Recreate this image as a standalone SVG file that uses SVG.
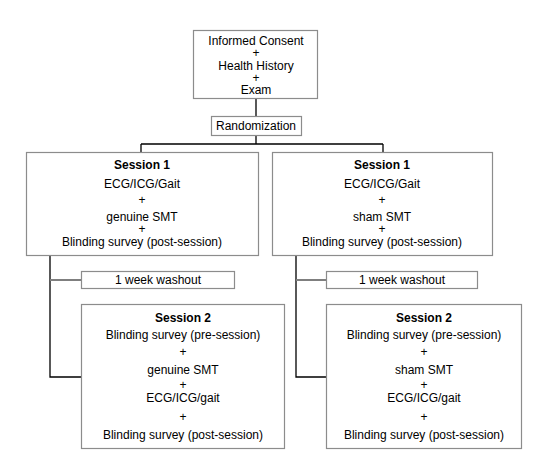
<svg xmlns="http://www.w3.org/2000/svg" width="549" height="463" viewBox="0 0 549 463">
<style>
.box{fill:#fff;stroke:#8c8c8c;stroke-width:1.2}
text{font-family:"Liberation Sans",Arial,sans-serif;font-size:12px;fill:#000;text-anchor:middle}
.b{font-weight:bold}
.ln{stroke:#000;stroke-width:1.3;fill:none}
.lg{stroke:#7f7f7f;stroke-width:2;fill:none}
</style>
<rect width="549" height="463" fill="#fff"/>
<g id="connectors">
<path class="ln" d="M256 99V116M256 136V144M141 144H383M141 144V152M383 144V152"/>
<path class="ln" d="M50 256V377H81M296 256V377H326"/>
<path class="lg" d="M50 280H81M296 280H326"/>
</g>
<g id="consent">
<rect class="box" x="193.5" y="30.5" width="124" height="68"/>
<text x="256" y="45">Informed Consent</text>
<text x="256" y="57">+</text>
<text x="256" y="70">Health History</text>
<text x="256" y="82">+</text>
<text x="256" y="94">Exam</text>
</g>
<g id="randomization">
<rect class="box" x="211.5" y="116.5" width="90" height="19"/>
<text x="256" y="130">Randomization</text>
</g>
<g id="s1-left">
<rect class="box" x="26.5" y="152.5" width="232" height="103"/>
<text class="b" x="142" y="169">Session 1</text>
<text x="142" y="188">ECG/ICG/Gait</text>
<text x="142" y="204">+</text>
<text x="142" y="221">genuine SMT</text>
<text x="142" y="233">+</text>
<text x="142" y="246">Blinding survey (post-session)</text>
</g>
<g id="s1-right">
<rect class="box" x="272.5" y="152.5" width="220" height="103"/>
<text class="b" x="382" y="169">Session 1</text>
<text x="382" y="188">ECG/ICG/Gait</text>
<text x="382" y="204">+</text>
<text x="382" y="221">sham SMT</text>
<text x="382" y="233">+</text>
<text x="382" y="246">Blinding survey (post-session)</text>
</g>
<g id="washout-left">
<rect class="box" x="81.5" y="271.5" width="153" height="17"/>
<text x="158" y="284">1 week washout</text>
</g>
<g id="washout-right">
<rect class="box" x="326.5" y="271.5" width="151" height="17"/>
<text x="402" y="284">1 week washout</text>
</g>
<g id="s2-left">
<rect class="box" x="81.5" y="304.5" width="203" height="144"/>
<text class="b" x="183" y="322">Session 2</text>
<text x="183" y="339">Blinding survey (pre-session)</text>
<text x="183" y="356">+</text>
<text x="183" y="374">genuine SMT</text>
<text x="183" y="389">+</text>
<text x="183" y="402">ECG/ICG/gait</text>
<text x="183" y="421">+</text>
<text x="183" y="439">Blinding survey (post-session)</text>
</g>
<g id="s2-right">
<rect class="box" x="326.5" y="304.5" width="195" height="144"/>
<text class="b" x="424" y="322">Session 2</text>
<text x="424" y="339">Blinding survey (pre-session)</text>
<text x="424" y="356">+</text>
<text x="424" y="374">sham SMT</text>
<text x="424" y="389">+</text>
<text x="424" y="402">ECG/ICG/gait</text>
<text x="424" y="421">+</text>
<text x="424" y="439">Blinding survey (post-session)</text>
</g>
</svg>
